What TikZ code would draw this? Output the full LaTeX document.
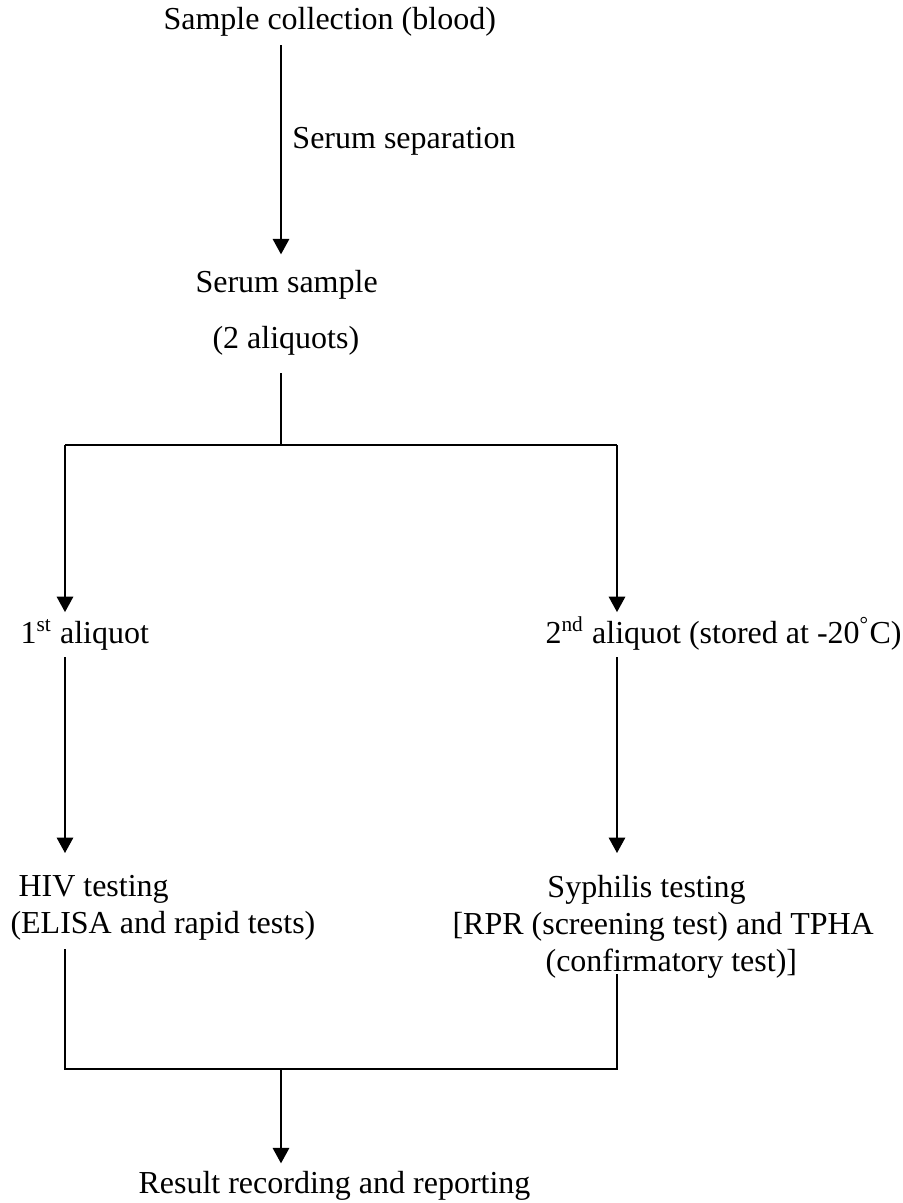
\documentclass[tikz,border=0pt]{standalone}
\usepackage{fontspec}
\setmainfont{Liberation Serif}
\usetikzlibrary{arrows.meta, calc}

\tikzset{
  txt/.style={inner sep=0pt, anchor=base west},
  block/.style={inner sep=0pt, anchor=north west, align=left},
  link/.style={line width=0.6pt},
  flow/.style={line width=0.6pt, -{Triangle[length=5.8pt, width=6.2pt]}}
}

\begin{document}
\begin{tikzpicture}[x=0.375pt, y=-0.375pt, font=\fontsize{12}{13.9}\selectfont]
  \useasboundingbox (0,0) rectangle (903,1203);

  % text
  \node[txt] (title) at (163,29) {Sample collection (blood)};
  \node[txt] (serum) at (195,292) {Serum sample};
  \node[txt] (aliquots) at (212,348) {(2 aliquots)};
  \node[txt] (first) at (20,643) {1\textsuperscript{st} aliquot};
  \node[txt] (second) at (545,643) {2\textsuperscript{nd} aliquot (stored at -20\textsuperscript{°}C)};
  \node[block] (hiv) at (10,875) {\hspace*{3pt}HIV testing\\(ELISA and rapid tests)};
  \node[block] (syph) at (452,875) {\hspace*{35.6pt}Syphilis testing\\{}[RPR (screening test) and TPHA\\\hspace*{34.9pt}(confirmatory test)]};
  \node[txt] (result) at (138,1193) {Result recording and reporting};

  % junctions
  \coordinate (split) at (281,445);
  \coordinate (L) at (65,445);
  \coordinate (R) at (617,445);
  \coordinate (join) at (281,1069);

  % connectors
  \draw[flow, shorten <=3.4pt, shorten >=5.6pt] (title.south -| split) --
    node[pos=0.45, anchor=west, xshift=4pt, inner sep=0pt] (sep) {Serum separation} (serum.north -| split);
  \draw[link, shorten <=6.75pt] (aliquots.south -| split) -- (split);
  \draw[link] (L) -- (R);
  \draw[flow, shorten >=11.6pt] (L) -- (L |- first.base);
  \draw[flow, shorten >=11.6pt] (R) -- (R |- second.base);
  \draw[flow, shorten <=2.6pt, shorten >=8.25pt] (L |- first.south) -- (L |- hiv.north);
  \draw[flow, shorten <=2.6pt, shorten >=8.25pt] (R |- second.south) -- (R |- syph.north);
  \draw[link, shorten <=3pt, shorten >=-1.9pt] (L |- hiv.south) -- (L |- join) -- (R |- join) -- (R |- syph.south);
  \draw[flow, shorten >=2.6pt] (join) -- (result.north -| join);
\end{tikzpicture}
\end{document}
